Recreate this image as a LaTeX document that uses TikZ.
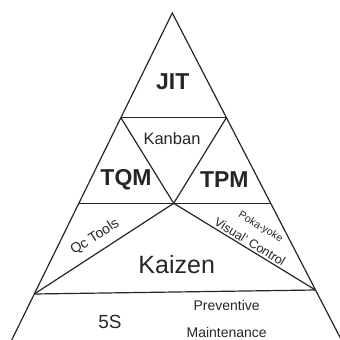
\documentclass[tikz,border=0pt]{standalone}
\usepackage{fontspec}
\setmainfont{Liberation Sans}
\begin{document}
\begin{tikzpicture}[x=1pt,y=-1pt,
  edge/.style={draw=black!85,line width=1.2pt},
  big/.style={font=\fontsize{23}{25}\selectfont\bfseries,text=black!85},
  lbl/.style={text=black!85,inner sep=0pt}]
\useasboundingbox (0,0) rectangle (340,340);
\clip (0,0) rectangle (340,340);
\coordinate (apex) at (172.3,13);
\coordinate (bl) at (11.7,340);
\coordinate (br) at (341.4,340);
\coordinate (l1) at (120.9,117.7);
\coordinate (r1) at (226.4,117.7);
\coordinate (l2) at (78.9,203.3);
\coordinate (r2) at (270.7,203.3);
\coordinate (c) at (173.7,203.3);
\coordinate (l3) at (34.3,294);
\coordinate (r3) at (315.5,290);
\draw[edge,line join=miter] (bl) -- (apex) -- (br);
\draw[edge] (l1) -- (r1);
\draw[edge] (l2) -- (r2);
\draw[edge] (l3) -- (r3);
\draw[edge] (l1) -- (c) -- (r1);
\draw[edge] (l3) -- (c) -- (r3);
\node[big,lbl] (jit) at (172.7,82) {JIT};
\node[lbl,font=\fontsize{16.5}{18}\selectfont] (kanban) at (172,139) {Kanban};
\node[big,lbl] (tqm) at (126,180) {TQM};
\node[big,lbl] (tpm) at (224.3,180) {TPM};
\node[lbl,font=\fontsize{14}{16}\selectfont,rotate=33] (qc) at (95,237) {Qc Tools};
\node[lbl,font=\fontsize{10.5}{12}\selectfont,rotate=-31.4] (poka) at (260.5,227.3) {Poka-yoke};
\node[lbl,font=\fontsize{12.5}{14}\selectfont,rotate=-31.4] (vc) at (250,241.7) {Visual’ Control};
\node[lbl,font=\fontsize{25}{27}\selectfont] (kaizen) at (176.7,265) {Kaizen};
\node[lbl,font=\fontsize{19}{21}\selectfont] (fives) at (110,321.7) {5S};
\node[lbl,font=\fontsize{14}{16}\selectfont] (prev) at (226.7,305) {Preventive};
\node[lbl,font=\fontsize{14}{16}\selectfont] (maint) at (226.7,332.3) {Maintenance};
\end{tikzpicture}
\end{document}
